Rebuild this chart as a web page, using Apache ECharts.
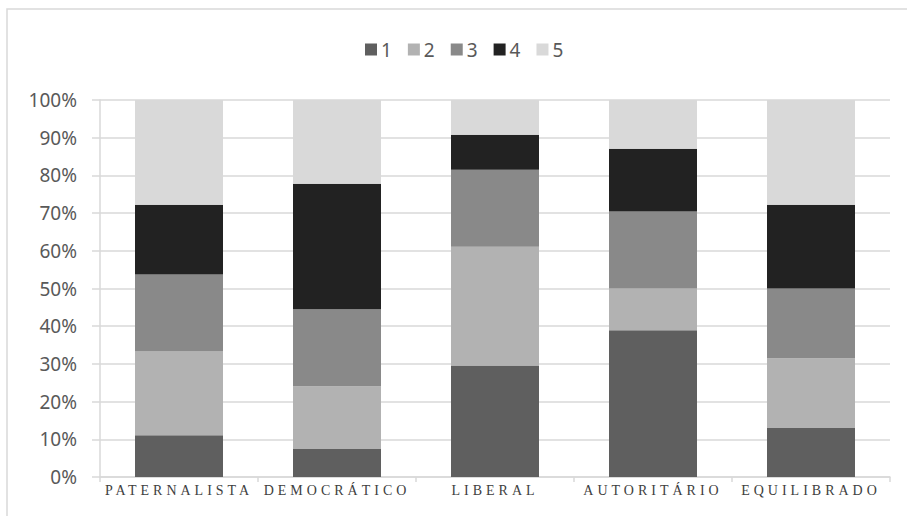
<!DOCTYPE html>
<html>
<head>
<meta charset="utf-8">
<script src="https://cdn.jsdelivr.net/npm/echarts@6/dist/echarts.min.js"></script>
<style>
  html, body { margin: 0; padding: 0; background: #fff; }
  #chart { width: 907px; height: 516px; }
  /* category labels are letter-spaced serif caps */
  #chart text[style*="Serif"], #chart text[font-family*="Serif"] { letter-spacing: 4px; }
</style>
</head>
<body>
<div id="chart"></div>
<script>
const categories = ['PATERNALISTA', 'DEMOCRÁTICO', 'LIBERAL', 'AUTORITÁRIO', 'EQUILIBRADO'];
const seriesNames = ['1', '2', '3', '4', '5'];
// percentages per category
const s1 = [11.1, 7.4, 29.6, 38.9, 13.0];
const s2 = [22.2, 16.7, 31.5, 11.1, 18.5];
const s3 = [20.4, 20.4, 20.4, 20.4, 18.5];
const s4 = [18.5, 33.3, 9.3, 16.7, 22.2];
const s5 = [27.8, 22.2, 9.2, 12.9, 27.8];
const yTicks = [0, 10, 20, 30, 40, 50, 60, 70, 80, 90, 100];

const colors = ['#5f5f5f', '#b2b2b2', '#898989', '#222222', '#d9d9d9'];
const values = [s1, s2, s3, s4, s5];

const chart = echarts.init(document.getElementById('chart'), null, { renderer: 'svg' });

const option = {
    animation: false,
    backgroundColor: '#fff',
    color: colors,
    graphic: [
        {
            type: 'rect',
            shape: { x: 7, y: 9, width: 920, height: 530 },
            style: { fill: 'none', stroke: '#d9d9d9', lineWidth: 1.5 },
            silent: true
        }
    ],
    legend: {
        left: 360,
        top: 35,
        itemWidth: 12,
        itemHeight: 12,
        itemGap: 16,
        icon: 'rect',
        textStyle: {
            fontFamily: 'Noto Sans',
            fontSize: 19,
            color: '#595959',
            padding: [0, 0, 0, -1]
        },
        data: seriesNames
    },
    grid: {
        left: 100,
        right: 17,
        top: 100,
        bottom: 39,
        containLabel: false
    },
    xAxis: {
        type: 'category',
        data: categories,
        axisLine: { lineStyle: { color: '#d9d9d9', width: 1.5 } },
        axisTick: { show: true, length: 5, lineStyle: { color: '#d9d9d9', width: 1.5 } },
        axisLabel: {
            fontFamily: 'Liberation Serif',
            fontSize: 14,
            color: '#404040',
            margin: 6
        }
    },
    yAxis: {
        type: 'value',
        min: 0,
        max: 100,
        interval: 10,
        axisLine: { show: true, lineStyle: { color: '#d9d9d9', width: 1.5 } },
        axisTick: { show: true, length: 8, lineStyle: { color: '#d9d9d9', width: 1.5 } },
        splitLine: { lineStyle: { color: '#d9d9d9', width: 1.5 } },
        axisLabel: {
            fontFamily: 'Noto Sans',
            fontSize: 19,
            color: '#595959',
            margin: 23,
            customValues: yTicks,
            formatter: v => v + '%'
        }
    },
    series: seriesNames.map((name, i) => ({
        name: name,
        type: 'bar',
        stack: 'total',
        barWidth: 88,
        data: values[i],
        itemStyle: { color: colors[i] }
    }))
};

chart.setOption(option);
window.addEventListener('resize', () => chart.resize());
</script>
</body>
</html>
